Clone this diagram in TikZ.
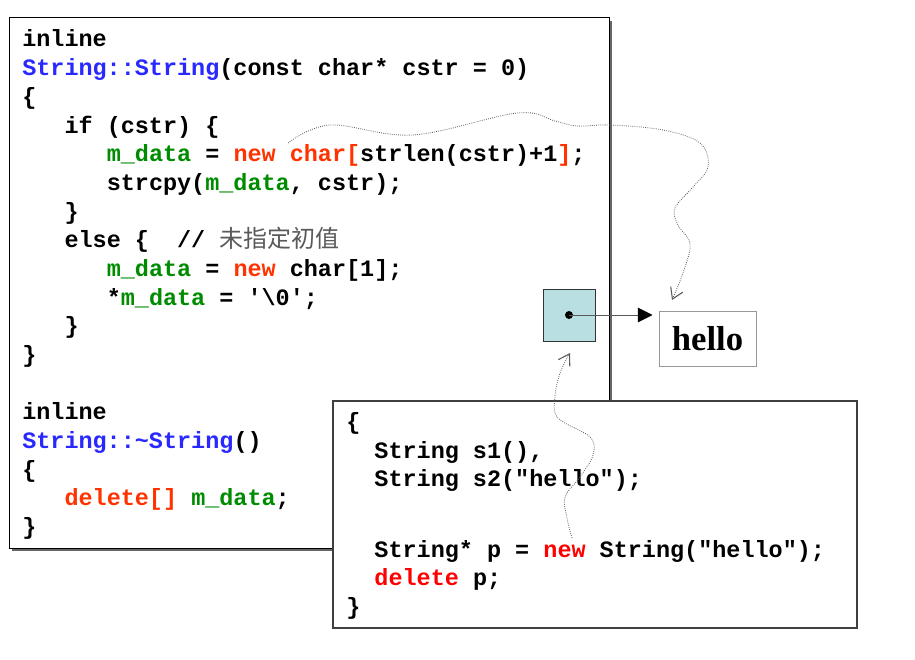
\documentclass[tikz,border=0pt]{standalone}
\usepackage{fontspec}
\setmonofont{Liberation Mono}
\newfontfamily\cjk{Noto Sans CJK SC}
\newfontfamily\hellofont{Liberation Serif}
\usetikzlibrary{arrows.meta}

\definecolor{blued}{RGB}{40,40,255}
\definecolor{greend}{RGB}{0,140,0}
\definecolor{redd}{RGB}{255,51,0}
\definecolor{redp}{RGB}{255,0,0}
\definecolor{cyand}{RGB}{185,223,227}
\definecolor{grayd}{RGB}{90,90,90}

\newcommand{\blu}[1]{\textcolor{blued}{#1}}
\newcommand{\grn}[1]{\textcolor{greend}{#1}}
\newcommand{\rdo}[1]{\textcolor{redd}{#1}}
\newcommand{\rdp}[1]{\textcolor{redp}{#1}}

\tikzset{
  codeline/.style={anchor=base west, inner sep=0pt, font=\ttfamily\bfseries\fontsize{17.6}{21}\selectfont\frenchspacing},
  wavy/.style={densely dotted, grayd, line width=0.6pt, -{Straight Barb[length=8pt,width=10pt,line width=0.8pt]}},
}

\begin{document}
\begin{tikzpicture}[x=0.75pt, y=-0.75pt]
                    \useasboundingbox (0,0) rectangle (915,660);
                    % constructor / destructor box
                    \draw[fill = black!60, draw = none] (12,21) rectangle (612,551);
                    \draw[fill = white, line width = 0.75pt] (9,18) rectangle (609,548);
                    \foreach \txt [count=\i from 0] in {
                        inline,
                        {\blu{String::String}(const char* cstr = 0)},
                        \{,
                        ~~~if (cstr) \{,
                        {~~~~~~\grn{m\_data} = \rdo{new char[}strlen(cstr)+1\rdo{]};},
                        {~~~~~~strcpy(\grn{m\_data}, cstr);},
                        ~~~\},
                        {~~~else \{~~// {\cjk\mdseries\color{grayd}\fontsize{18}{21}\selectfont 未指定初值}},
                        {~~~~~~\grn{m\_data} = \rdo{new} char[1];},
                        {~~~~~~*\grn{m\_data} = '\textbackslash 0';},
                        ~~~\},
                        \},
                        {},
                        inline,
                        {\blu{String::\textasciitilde String}()},
                        \{,
                        {~~~\rdo{delete[]} \grn{m\_data};},
                        \}}
                        {\node[codeline] (lft\i) at (22,{47+28.68*\i}) {\txt};}
                    % pointer and heap string
                    \node[draw = black!80, fill = cyand, minimum size = 39pt, inner sep = 0pt, line width = 0.75pt] (ptr) at (569,315) {};
                    \fill (ptr.center) circle (3pt);
                    \node[draw = black!40, line width = 0.75pt, minimum width = 72.75pt, minimum height = 41.25pt, inner sep = 0pt,
                          font = \hellofont\bfseries\fontsize{26}{30}\selectfont] (hello) at (707.5,338.5) {hello};
                    \draw[grayd, line width = 0.75pt, -{Triangle[length=11pt,width=11pt,color=black]}, shorten >= 4.5pt]
                        (ptr.center) -- (ptr.center -| hello.west);
                    % usage box
                    \draw[fill = white, draw = black!75, line width = 0.9pt] (333,401) rectangle (857,628);
                    \node[codeline] (rgt1) at (346,429.5) {\{};
                    \node[codeline] (rgt2) at (346,458) {~~String s1(),};
                    \node[codeline] (rgt3) at (346,486.5) {~~String s2("hello");};
                    \node[codeline] (rgt4) at (346,557) {~~String* p = \rdp{new}~String("hello");};
                    \node[codeline] (rgt5) at (346,585.5) {~~\rdp{delete} p;};
                    \node[codeline] (rgt6) at (346,614) {\}};
                    % wavy pointers
                    \coordinate (src1) at (288,143);
                    \coordinate (tip1) at (672,300);
                    \coordinate (src2) at (572,538);
                    \coordinate (tip2) at (570,353);
                    \draw[wavy] plot[smooth, tension = 0.6] coordinates {(src1) (330,125) (413,135) (517,113) (555,121) (577,126) (610,125) (663,130) (700,143) (708,167) (693,187) (675,208) (678,225) (690,244) (683,273) (tip1)};
                    \draw[wavy] plot[smooth, tension = 0.6] coordinates {(src2) (567,518) (565,497) (580,477) (593,455) (590,437) (558,418) (555,397) (560,373) (tip2)};
                \end{tikzpicture}
\end{document}
